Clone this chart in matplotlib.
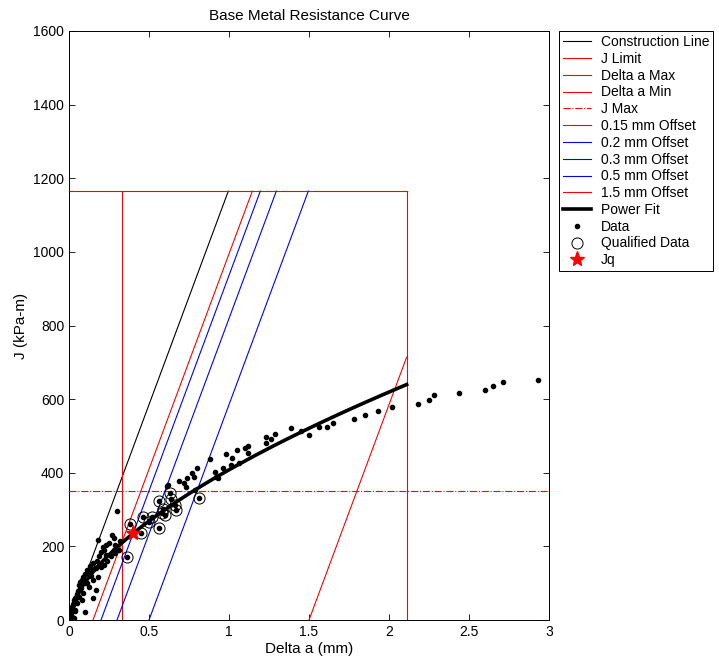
import numpy as np
import matplotlib
matplotlib.use("Agg")
import matplotlib.pyplot as plt
from matplotlib.ticker import FormatStrFormatter

plt.rcParams['font.family'] = ['Liberation Sans', 'DejaVu Sans']

# crack extension (mm) and J (kPa-m) from the test record
delta_a = [0.005, 0.01, 0.015, 0.02, 0.02, 0.025, 0.03, 0.03, 0.035, 0.04,
           0.04, 0.045, 0.05, 0.05, 0.055, 0.06, 0.06, 0.065, 0.07, 0.075,
           0.08, 0.08, 0.09, 0.09, 0.10, 0.10, 0.10, 0.11, 0.11, 0.12,
           0.125, 0.13, 0.135, 0.14, 0.15, 0.15, 0.15, 0.16, 0.17, 0.17,
           0.175, 0.18, 0.18, 0.19, 0.19, 0.20, 0.20, 0.21, 0.22, 0.22,
           0.23, 0.23, 0.24, 0.25, 0.26, 0.27, 0.28, 0.28, 0.29, 0.29,
           0.30, 0.31, 0.32,
           0.36, 0.38, 0.45, 0.46, 0.50, 0.52, 0.56, 0.56, 0.58, 0.59,
           0.60, 0.63, 0.64, 0.66, 0.67, 0.81,
           0.61, 0.62, 0.69, 0.72, 0.73, 0.74, 0.77, 0.78, 0.79, 0.80,
           0.88, 0.91, 0.92, 0.93, 0.96, 0.98, 1.02, 1.01, 1.05, 1.06,
           1.10, 1.12, 1.12, 1.23, 1.26, 1.23, 1.29, 1.39, 1.45, 1.50,
           1.56, 1.61, 1.65, 1.78, 1.85, 1.93, 2.02, 2.18, 2.25, 2.28,
           2.44, 2.60, 2.65, 2.71, 2.93]
j_val = [5, 12, 20, 8, 30, 40, 5, 55, 25, 27,
         60, 48, 45, 70, 80, 81, 62, 95, 103, 88,
         54, 110, 73, 118, 23, 100, 125, 100, 135, 128,
         90, 147, 136, 120, 59, 109, 155, 140, 81, 140,
         160, 118, 217, 150, 175, 145, 185, 199, 149, 190,
         177, 205, 160, 210, 175, 231, 223, 190, 204, 181,
         297, 190, 215,
         172, 262, 237, 281, 265, 281, 250, 323, 290, 301,
         285, 345, 330, 312, 299, 331,
         364, 367, 378, 372, 362, 387, 400, 389, 353, 414,
         437, 401, 389, 385, 414, 450, 439, 421, 462, 426,
         466, 473, 453, 496, 492, 480, 505, 521, 514, 503,
         525, 525, 536, 545, 556, 567, 578, 587, 597, 610,
         617, 626, 636, 647, 652]

offsets = [0.15, 0.2, 0.3, 0.5, 1.5]
offset_colors = ['red', 'blue', 'blue', 'blue', 'red']
offset_labels = ['0.15 mm Offset', '0.2 mm Offset', '0.3 mm Offset',
                 '0.5 mm Offset', '1.5 mm Offset']

slope = 1170.0      # construction line slope (kPa-m / mm)
j_limit = 1165.0
j_max = 350.0
da_min = 0.33
da_max = 2.11
fit_c = 408.0       # J = C * da^n
fit_n = 0.602
jq_da, jq_j = 0.40, 235.0

delta_a = np.array(delta_a)
j_val = np.array(j_val)

fig = plt.figure(figsize=(7.19, 6.70), dpi=100)
ax = fig.add_axes([69 / 719, 50 / 670, 480 / 719, 589 / 670])

lw = 0.8
ax.plot([0, j_limit / slope], [0, j_limit], color='black', lw=lw, label='Construction Line')
ax.plot([0, da_max], [j_limit, j_limit], color='red', lw=lw, label='J Limit')
ax.plot([da_max, da_max], [0, j_limit], color='red', lw=lw, label='Delta a Max')
ax.plot([da_min, da_min], [0, j_limit], color='red', lw=lw, label='Delta a Min')
ax.plot([0, 3], [j_max, j_max], color='red', ls='-.', lw=lw, label='J Max')

for off, col, lab in zip(offsets, offset_colors, offset_labels):
    x_end = min(off + j_limit / slope, da_max)
    ax.plot([off, x_end], [0, slope * (x_end - off)], color=col, lw=lw, label=lab)

fit_x = np.linspace(0.003, da_max, 200)
ax.plot(fit_x, fit_c * fit_x ** fit_n, color='black', lw=2.6, label='Power Fit')

ax.plot(delta_a, j_val, '.', color='black', ms=6, label='Data')

qual = (delta_a >= da_min) & (j_val <= j_max) & (delta_a <= da_max)
ax.plot(delta_a[qual], j_val[qual], 'o', mfc='none', mec='black', ms=8, mew=0.7,
        label='Qualified Data')

ax.plot([jq_da], [jq_j], '*', color='red', ms=11, label='Jq')

ax.set_xlim(0, 3)
ax.set_ylim(0, 1600)
ax.set_xticks(np.arange(0, 3.01, 0.5))
ax.set_yticks(np.arange(0, 1601, 200))
ax.xaxis.set_major_formatter(FormatStrFormatter('%g'))
ax.tick_params(direction='in', top=True, right=True, length=4, width=0.6,
               labelsize=10)
for sp in ax.spines.values():
    sp.set_linewidth(0.7)

ax.set_title('Base Metal Resistance Curve', fontsize=11, pad=8)
ax.set_xlabel('Delta a (mm)', fontsize=11, labelpad=2)
ax.set_ylabel('J (kPa-m)', fontsize=11, labelpad=4)

leg = ax.legend(loc='upper left', bbox_to_anchor=(559 / 719, 639 / 670),
                bbox_transform=fig.transFigure, fontsize=10, fancybox=False,
                framealpha=1, edgecolor='black', handlelength=2.0,
                handletextpad=0.7, labelspacing=0.2, borderpad=0.3,
                borderaxespad=0)
leg.get_frame().set_linewidth(0.7)

fig.savefig('out.png', dpi=100)
